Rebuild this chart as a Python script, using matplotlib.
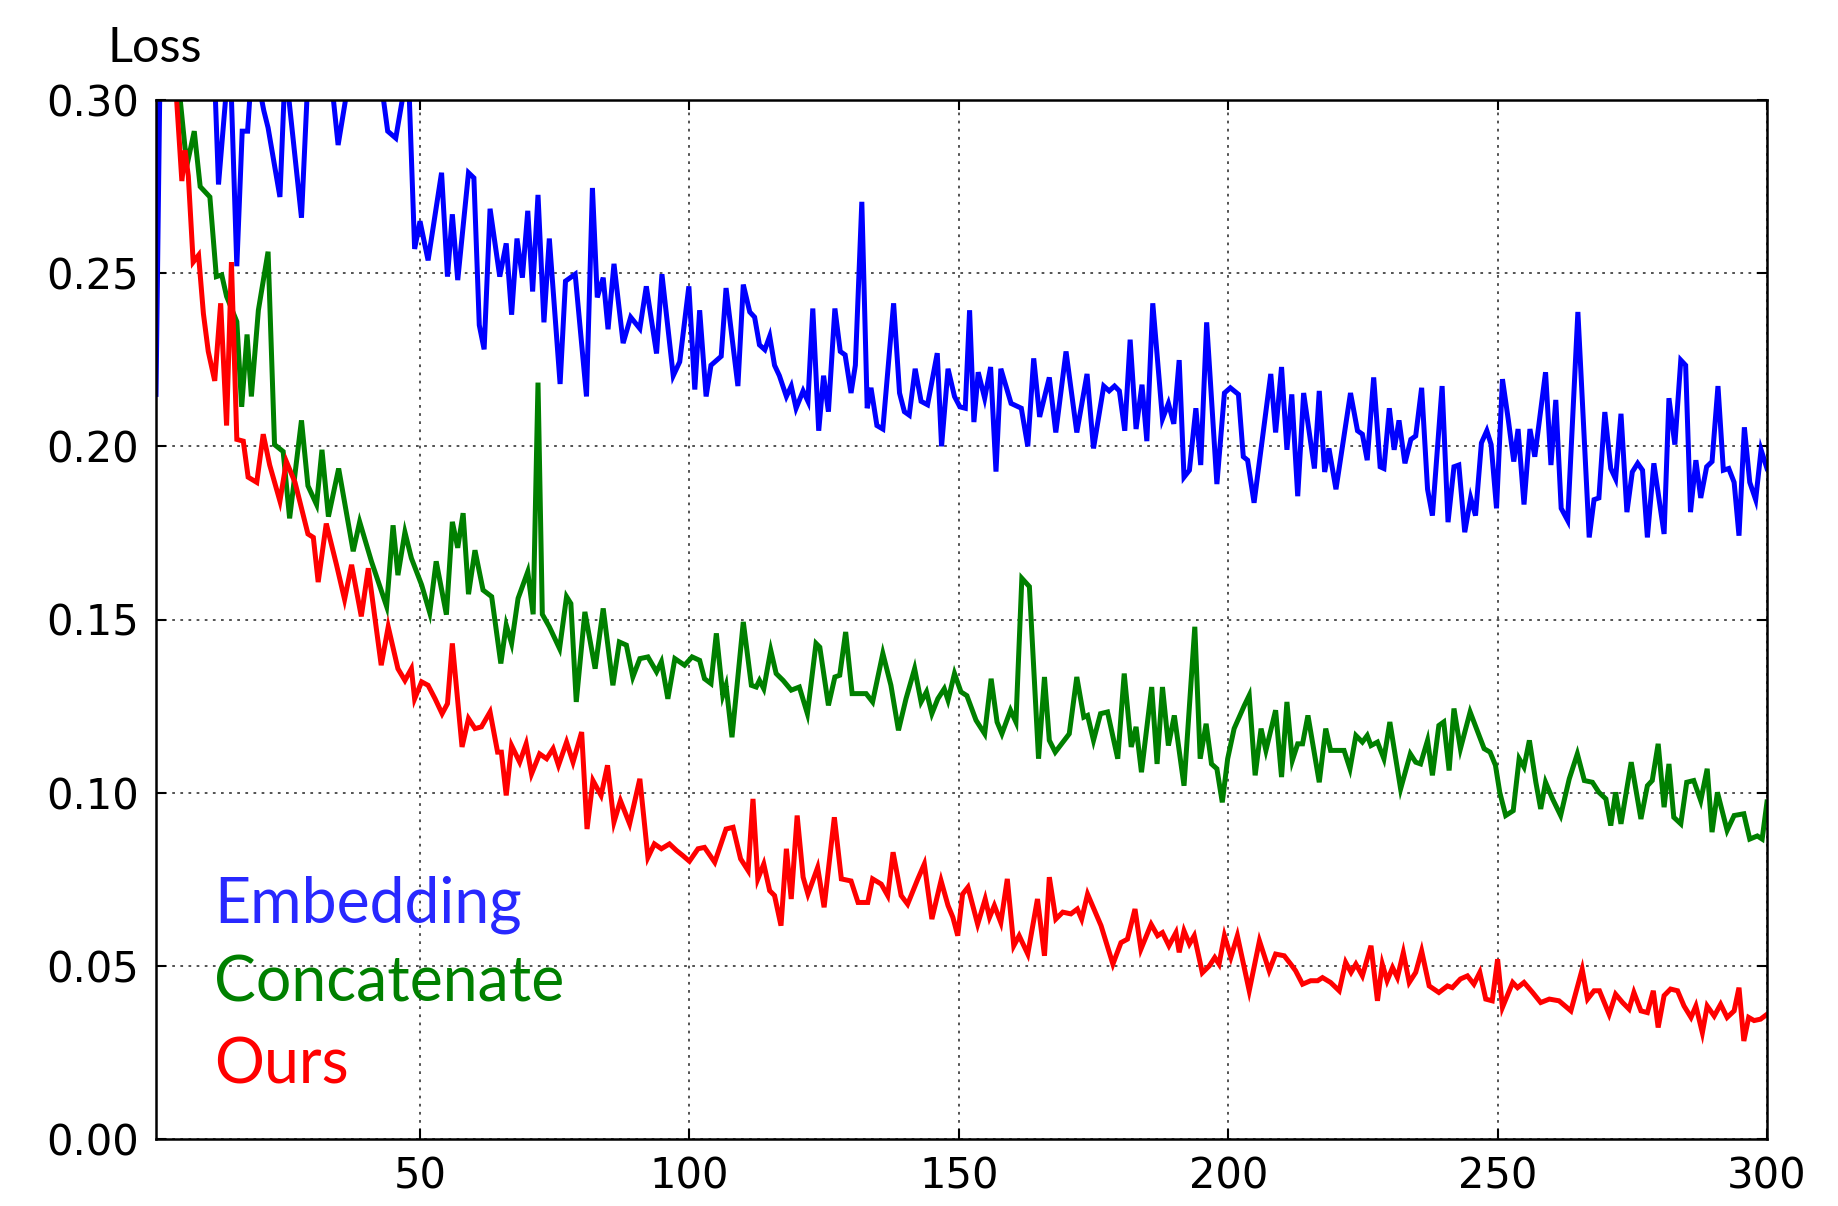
import matplotlib
matplotlib.use("Agg")
import matplotlib.pyplot as plt

# ---------------- data ----------------
emb_epoch = [1, 2, 6, 10, 11.8, 12.6, 14.7, 16.0, 17.0, 18.0, 18.8, 20.0, 21.0, 21.8, 24.0, 25.0,
             28.0, 29.3, 31, 33.6, 34.8, 36.7, 39, 42.8, 44.0, 45.5, 47.8, 49.0, 50.0, 51.5,
             54, 55.1, 56, 57, 59, 60, 61, 61.9, 63, 64.8, 66, 67, 68, 69, 70, 70.9, 71.9, 73,
             74, 76, 77, 78.8, 80.9, 82, 82.9, 84, 84.9, 86, 87.7, 89.1, 90.8, 92, 93.9, 94.9,
             97, 98.2, 99.9, 101, 101.9, 103.1, 104, 105.9, 106.8, 109, 110, 111.2, 112.1, 113,
             114, 114.9, 115.8, 116.7, 118, 118.9, 119.8, 121.1, 122, 122.9, 124, 124.9, 125.8,
             127, 128, 128.9, 130, 130.8, 132, 133, 133.7, 134.8, 135.9, 137.9, 139, 139.9,
             140.8, 141.9, 143, 144.2, 146, 146.8, 148, 149.2, 150.2, 151.2, 152, 152.8, 153.6,
             154.8, 155.9, 156.9, 157.8, 159.7, 161.6, 162.8, 163.9, 165, 166.8, 168, 169.9,
             171.9, 173.8, 175, 176.9, 177.9, 178.9, 179.8, 180.8, 181.8, 182.9, 184, 184.9,
             186, 187.8, 188.9, 189.9, 190.9, 191.8, 192.8, 194, 194.9, 196, 197.9, 199.3,
             200.4, 201.9, 202.8, 203.6, 204.8, 207.9, 208.8, 209.9, 210.9, 211.8, 212.9, 214,
             216, 216.9, 217.9, 218.7, 220, 222.7, 224, 224.9, 225.8, 227, 228.2, 228.9, 229.9,
             230.8, 231.7, 232.8, 233.9, 234.8, 235.9, 237, 237.9, 239.7, 240.8, 241.9, 242.8,
             243.9, 245, 245.9, 247, 248, 248.8, 249.8, 250.9, 252, 253, 253.8, 254.9, 256,
             256.9, 258.9, 259.9, 260.8, 261.8, 263, 264.9, 267, 267.9, 268.8, 269.9, 271,
             271.9, 272.9, 274, 275, 276, 276.9, 277.8, 279, 280.9, 281.8, 282.9, 284, 284.9,
             285.8, 286.8, 287.7, 288.8, 289.8, 290.9, 291.9, 292.9, 293.9, 294.8, 295.8,
             296.8, 297.9, 298.9, 300]
emb_loss = [0.215, 0.34, 0.33, 0.32, 0.31, 0.2756, 0.315, 0.252, 0.291, 0.291, 0.31, 0.305,
            0.297, 0.292, 0.272, 0.31, 0.266, 0.31, 0.32, 0.305, 0.287, 0.305, 0.32, 0.305,
            0.291, 0.289, 0.31, 0.257, 0.265, 0.2537,
            0.279, 0.249, 0.267, 0.248, 0.279, 0.2775, 0.235, 0.228, 0.2686, 0.249, 0.2586,
            0.238, 0.260, 0.2487, 0.268, 0.2447, 0.2726, 0.2358, 0.260, 0.218, 0.2477, 0.2497,
            0.2144, 0.2746, 0.243, 0.2487, 0.2338, 0.2527, 0.2298, 0.2373, 0.234, 0.2462,
            0.2268, 0.2497, 0.2204, 0.2244, 0.2462, 0.2164, 0.2393, 0.2144, 0.2234, 0.226,
            0.2457, 0.2174, 0.2467, 0.2388, 0.2373, 0.2293, 0.2279, 0.2318, 0.2234, 0.2204,
            0.2144, 0.2174, 0.211, 0.216, 0.213, 0.2398, 0.2045, 0.2204, 0.21, 0.2398, 0.2274,
            0.2264, 0.2154, 0.2234, 0.2706, 0.211, 0.2169, 0.206, 0.205, 0.2413, 0.2154, 0.21,
            0.209, 0.2224, 0.213, 0.212, 0.2269, 0.200, 0.2224, 0.2144, 0.2114, 0.211, 0.2393,
            0.207, 0.2214, 0.2139, 0.2229, 0.1927, 0.2224, 0.2124, 0.211, 0.200, 0.2254,
            0.2085, 0.2199, 0.204, 0.2274, 0.204, 0.2209, 0.1994, 0.2174, 0.216, 0.2174,
            0.216, 0.2045, 0.2308, 0.205, 0.2178, 0.2015, 0.2413, 0.2079, 0.2124, 0.2065,
            0.2249, 0.1911, 0.1931, 0.211, 0.1946, 0.2358, 0.1891, 0.2154, 0.2169, 0.215,
            0.197, 0.196, 0.1837, 0.2209, 0.204, 0.2229, 0.199, 0.215, 0.1856, 0.2154, 0.1936,
            0.216, 0.1926, 0.1994, 0.1876, 0.2154, 0.2045, 0.2035, 0.196, 0.2199, 0.1941,
            0.1936, 0.211, 0.199, 0.2075, 0.1951, 0.202, 0.203, 0.2169, 0.1876, 0.180, 0.2174,
            0.1781, 0.1941, 0.1946, 0.1752, 0.1851, 0.180, 0.201, 0.2045, 0.2005, 0.1821,
            0.2194, 0.2075, 0.1956, 0.205, 0.1832, 0.205, 0.197, 0.2214, 0.1946, 0.2134,
            0.1821, 0.1786, 0.2388, 0.1737, 0.1846, 0.1851, 0.2099, 0.1936, 0.1906, 0.2094,
            0.181, 0.1926, 0.1951, 0.1931, 0.1737, 0.1951, 0.1747, 0.2139, 0.2005, 0.2249,
            0.2234, 0.181, 0.196, 0.1851, 0.1941, 0.1956, 0.2174, 0.1931, 0.1936, 0.1896,
            0.1742, 0.2055, 0.1896, 0.1846, 0.199, 0.1936]

cat_epoch = [1, 2, 3, 4, 5.5, 6.4, 7, 8.1, 9.2, 11, 12.2, 13.2, 14.1, 16, 16.9, 17.9, 18.7, 20,
             21.8, 23, 24.6, 25.8, 28, 29.2, 30.8, 31.8, 33, 34.9, 37.6, 38.8, 41, 43.8, 45,
             45.9, 47.2, 48.4, 49.6, 50.3, 51.8, 53, 54.9, 56, 57, 58, 59, 60.2, 61.7, 63.3, 65,
             66, 67, 68.2, 70, 71, 71.9, 72.7, 74, 75.9, 77.2, 78, 79, 80.6, 81.5, 82.5, 84,
             85.8, 87, 88.3, 89.5, 90.8, 92.3, 93.9, 94.8, 96, 97.3, 99.1, 100.5, 101.9, 102.8,
             104, 105, 106.2, 106.8, 107.9, 110, 111.5, 112.4, 113, 113.8, 115.1, 116.1, 117.4,
             118.9, 120.4, 121.9, 123.5, 124.2, 125.8, 127, 127.9, 129, 130.2, 132.8, 134,
             135.9, 137.4, 138.8, 140.2, 141.8, 143, 144, 145, 146.1, 147.3, 148, 149.2, 150.4,
             151.5, 153.2, 154.8, 156, 157.1, 158, 159.6, 160.6, 161.7, 163.1, 164.8, 165.9,
             166.8, 167.9, 170.5, 171.9, 173.2, 173.9, 175, 176.3, 177.6, 179.5, 180.7, 182,
             182.9, 183.9, 185.8, 186.8, 187.8, 188.9, 190, 191.8, 193.8, 194.8, 195.9, 196.9,
             197.9, 198.9, 199.9, 201.1, 203, 203.9, 205, 206.1, 207, 208.8, 209.9, 210.9,
             211.9, 212.9, 213.8, 214.8, 216.9, 218.1, 219, 221.5, 222.6, 223.7, 224.9, 225.8,
             226.5, 227.7, 228.9, 230, 232, 233.8, 234.8, 235.7, 237, 237.9, 239.1, 240, 241,
             241.9, 243.1, 244.9, 246.2, 247.5, 248.6, 249.6, 250.4, 251.5, 252.9, 254, 254.9,
             255.9, 257.1, 258, 258.9, 260.2, 261.7, 263.3, 264.8, 266.1, 267.6, 268.8, 270.1,
             271, 271.9, 272.9, 274.8, 276.6, 277.8, 278.7, 279.8, 280.9, 281.8, 282.7, 284,
             285.1, 286.4, 287.7, 288.9, 289.8, 290.8, 292.6, 293.9, 295.7, 296.8, 298.2,
             299.1, 300]
cat_loss = [0.42, 0.38, 0.35, 0.32, 0.30, 0.286, 0.283, 0.291, 0.275, 0.272, 0.249, 0.2495,
            0.2433, 0.236, 0.2114, 0.2323, 0.2144, 0.2393, 0.2562, 0.2005, 0.1985, 0.1792,
            0.2075, 0.1886, 0.1832, 0.199, 0.1797, 0.1936, 0.1697, 0.1782, 0.1667, 0.1538,
            0.1772, 0.1628, 0.1752, 0.1677, 0.1628, 0.160, 0.152, 0.1668, 0.1514, 0.1782,
            0.1707, 0.1807, 0.1573, 0.170, 0.1585, 0.1566, 0.1373, 0.1484, 0.1431, 0.1561,
            0.1638, 0.1515, 0.2184, 0.1515, 0.1479, 0.1416, 0.1566, 0.1546, 0.1262, 0.1522,
            0.1445, 0.1358, 0.1532, 0.131, 0.1435, 0.1426, 0.1334, 0.1387, 0.1392, 0.1349,
            0.1378, 0.1271, 0.1387, 0.1368, 0.1392, 0.1382, 0.1329, 0.1315, 0.146, 0.1281,
            0.131, 0.116, 0.1493, 0.131, 0.1305, 0.1324, 0.13, 0.1411, 0.1344, 0.1324, 0.1296,
            0.1305, 0.1228, 0.1431, 0.142, 0.1252, 0.1334, 0.1339, 0.1464, 0.1286, 0.1286,
            0.1262, 0.1402, 0.131, 0.118, 0.1271, 0.1358, 0.1262, 0.1291, 0.1228, 0.1271, 0.13,
            0.1267, 0.1344, 0.1291, 0.128, 0.1209, 0.117, 0.1329, 0.1204, 0.117, 0.1238,
            0.1204, 0.1619, 0.1595, 0.1098, 0.1334, 0.1151, 0.1117, 0.117, 0.1334, 0.1218,
            0.1223, 0.1151, 0.1228, 0.1233, 0.1098, 0.1344, 0.1132, 0.119, 0.1059, 0.1305,
            0.1083, 0.1305, 0.1136, 0.1223, 0.102, 0.1479, 0.1098, 0.1199, 0.1083, 0.1069,
            0.0972, 0.1098, 0.1185, 0.1252, 0.1281, 0.105, 0.1185, 0.1122, 0.1238, 0.1045,
            0.1262, 0.1093, 0.1141, 0.1141, 0.1223, 0.103, 0.1185, 0.1122, 0.1122, 0.1069,
            0.1165, 0.1146, 0.1165, 0.1136, 0.1146, 0.1098, 0.1204, 0.1011, 0.1112, 0.1088,
            0.1083, 0.1151, 0.105, 0.1194, 0.1204, 0.1064, 0.1243, 0.1127, 0.1233, 0.118,
            0.1127, 0.1117, 0.1079, 0.1001, 0.0934, 0.0948, 0.1098, 0.1074, 0.1151, 0.103,
            0.0953, 0.103, 0.0982, 0.0934, 0.104, 0.1112, 0.1035, 0.103, 0.1001, 0.0982,
            0.0905, 0.1001, 0.091, 0.1088, 0.0924, 0.102, 0.1035, 0.1141, 0.0958, 0.1083,
            0.0929, 0.091, 0.103, 0.1035, 0.0977, 0.1069, 0.0886, 0.1001, 0.0891, 0.0934,
            0.0939, 0.0866, 0.0875, 0.0866, 0.0973]

ours_epoch = [1, 2, 3, 4, 5.8, 6.4, 7, 7.9, 8.9, 9.8, 10.7, 11.9, 13, 14.1, 15, 16, 17.2, 18.1,
              19.7, 20.9, 22.1, 24, 25.2, 26.8, 29.2, 30.2, 31.1, 32.6, 34.5, 36, 37.3, 39.1,
              40.4, 42.8, 44.1, 45.9, 47.2, 48.4, 49, 50.3, 51.5, 52.8, 54.1, 55.1, 56, 57.8,
              59, 60.2, 61.4, 63, 64.4, 65.1, 66, 67, 68.5, 69.7, 70.7, 72.2, 73.5, 74.7, 75.7,
              77.2, 78.4, 80, 81, 82.1, 83.6, 84.8, 86, 87.2, 88.9, 90.8, 92.3, 93.5, 94.8, 96.3,
              97.6, 98.8, 100, 101.6, 102.8, 104.7, 106.8, 108.1, 109.5, 110.9, 111.8, 112.7,
              113.8, 114.9, 115.8, 117, 118, 118.9, 120, 121.1, 122, 123.8, 125, 126.9, 128.2,
              130, 131.3, 133.1, 134, 135.6, 136.8, 137.8, 139.3, 140.5, 142.4, 143.6, 145,
              146.7, 148, 148.9, 149.8, 150.7, 151.7, 153.5, 154.9, 155.7, 156.6, 157.8, 159,
              160.2, 161.2, 162.8, 164.6, 165.9, 166.8, 168, 169.3, 170.8, 172, 172.8, 173.9,
              176.4, 178.6, 180.1, 181.3, 182.7, 183.8, 185.7, 186.9, 187.8, 189, 190.3, 190.9,
              191.8, 192.8, 193.7, 195.2, 196.5, 197.5, 198.3, 199.3, 200.5, 201.7, 203.9,
              205.8, 207.6, 208.8, 210.4, 211.6, 212.5, 213.8, 215.3, 216.6, 217.5, 219, 220.6,
              221.8, 222.8, 223.7, 224.9, 226.5, 227.7, 228.6, 229.5, 230.5, 231.4, 232.5,
              233.6, 234.8, 235.9, 237.3, 239.1, 240.7, 241.6, 243.1, 244.4, 245.6, 246.7,
              247.8, 249, 250, 250.9, 252.8, 253.7, 254.9, 256.5, 258, 259.6, 261.4, 263.6,
              265.7, 266.7, 267.9, 268.9, 270.7, 271.9, 273.2, 274.4, 275.3, 276.6, 277.8,
              278.9, 279.8, 280.9, 282.1, 283.4, 284.6, 285.9, 286.8, 288, 288.9, 290.2, 291.4,
              292.6, 293.9, 294.8, 295.7, 296.6, 297.6, 298.8, 300]
ours_loss = [0.45, 0.40, 0.36, 0.32, 0.2766, 0.2855, 0.278, 0.2532, 0.2552, 0.2383, 0.2274,
             0.2189, 0.2413, 0.206, 0.2532, 0.202, 0.2015, 0.1911, 0.1896, 0.2035, 0.1946,
             0.1842, 0.1956, 0.1896, 0.1747, 0.1737, 0.1608, 0.1777, 0.1658, 0.1558, 0.1658,
             0.1509, 0.1648, 0.1368, 0.1479, 0.1358, 0.1324, 0.1358, 0.1271, 0.1320, 0.1310,
             0.1271, 0.1228, 0.1257, 0.1431, 0.1132, 0.1214, 0.1185, 0.119, 0.1233, 0.1117,
             0.1117, 0.0992, 0.1136, 0.1088, 0.1141, 0.1054, 0.1112, 0.1098, 0.1127, 0.1079,
             0.1146, 0.1088, 0.1175, 0.0895, 0.1035, 0.0992, 0.1079, 0.0915, 0.0977, 0.091,
             0.104, 0.0813, 0.0852, 0.0838, 0.0852, 0.0833, 0.0818, 0.0802, 0.0838, 0.0842,
             0.0799, 0.0895, 0.090, 0.0809, 0.0775, 0.0982, 0.0751, 0.0794, 0.0717, 0.0703,
             0.0616, 0.0838, 0.0693, 0.0934, 0.0756, 0.0707, 0.0784, 0.0669, 0.0929, 0.0751,
             0.0745, 0.0683, 0.0683, 0.0751, 0.0736, 0.0703, 0.0828, 0.0703, 0.0678, 0.0751,
             0.0794, 0.0635, 0.0746, 0.0674, 0.064, 0.0587, 0.0707, 0.0727, 0.062, 0.0693,
             0.064, 0.0674, 0.0625, 0.0751, 0.0558, 0.0587, 0.0534, 0.0693, 0.0529, 0.0756,
             0.0635, 0.0655, 0.065, 0.0664, 0.0635, 0.0707, 0.0616, 0.0505, 0.0567, 0.0577,
             0.0664, 0.0548, 0.062, 0.0587, 0.0596, 0.0558, 0.0596, 0.0539, 0.0601, 0.0563,
             0.0587, 0.048, 0.050, 0.0524, 0.0505, 0.0587, 0.0525, 0.0587, 0.0428, 0.0572,
             0.0486, 0.0534, 0.0529, 0.0505, 0.0486, 0.0447, 0.0457, 0.0457, 0.0466, 0.0452,
             0.0428, 0.051, 0.0481, 0.0505, 0.0471, 0.0558, 0.0399, 0.0505, 0.0457, 0.0495,
             0.0466, 0.0538, 0.0452, 0.0481, 0.0543, 0.0442, 0.0423, 0.0442, 0.0437, 0.0462,
             0.0471, 0.0447, 0.0481, 0.0404, 0.0399, 0.0519, 0.038, 0.0452, 0.0437, 0.0452,
             0.0423, 0.0394, 0.0404, 0.0399, 0.037, 0.049, 0.0404, 0.0428, 0.0428, 0.036,
             0.0418, 0.0394, 0.0375, 0.0423, 0.037, 0.0365, 0.0428, 0.0322, 0.0414, 0.0433,
             0.0428, 0.0384, 0.0351, 0.0384, 0.0307, 0.0384, 0.0355, 0.0389, 0.0351, 0.037,
             0.0437, 0.0283, 0.0351, 0.0342, 0.0346, 0.036]

legend_labels = ["Embedding", "Concatenate", "Ours"]
x_ticks = [50, 100, 150, 200, 250, 300]
y_ticks = [0.00, 0.05, 0.10, 0.15, 0.20, 0.25, 0.30]

# ---------------- figure ----------------
W, H, DPI = 1838, 1206, 100
fig = plt.figure(figsize=(W / DPI, H / DPI), dpi=DPI, facecolor="white")
ax = fig.add_axes([156 / W, 1 - 1139 / H, (1767 - 156) / W, (1139 - 100) / H])

lw = 3.6
ax.plot(emb_epoch, emb_loss, color="#0000ff", lw=lw, solid_joinstyle="miter")
ax.plot(cat_epoch, cat_loss, color="#008000", lw=lw, solid_joinstyle="miter")
ax.plot(ours_epoch, ours_loss, color="#ff0000", lw=lw, solid_joinstyle="miter")

ax.set_xlim(1, 300)
ax.set_ylim(0, 0.30)
ax.set_xticks(x_ticks)
ax.set_yticks(y_ticks)
ax.set_yticklabels([f"{v:.2f}" for v in y_ticks])
ax.set_xticklabels([str(v) for v in x_ticks])

ax.grid(True, color="#444444", linestyle=(0, (1.5, 3.0)), linewidth=1.3)
ax.set_axisbelow(True)
for s in ax.spines.values():
    s.set_linewidth(1.8)
    s.set_color("black")

ax.tick_params(axis="both", which="major", direction="in", top=True, right=True,
               length=7, width=1.5, labelsize=30, colors="black")
ax.tick_params(axis="y", pad=12)
ax.tick_params(axis="x", pad=12)
for lab in ax.get_xticklabels() + ax.get_yticklabels():
    lab.set_fontfamily("DejaVu Sans")

# Annotations (added text in the reference)
fig.text(108 / W, 1 - 62 / H, "Loss", fontsize=35, family="Lato", color="black",
         ha="left", va="baseline")
leg_colors = ["#2828ff", "#008000", "#ff0000"]
leg_baselines = [922, 1002, 1084]
for lab, col, yb in zip(legend_labels, leg_colors, leg_baselines):
    fig.text(214 / W, 1 - yb / H, lab, fontsize=45, family="Lato", color=col,
             ha="left", va="baseline")

fig.savefig("out.png", dpi=DPI, facecolor="white")
